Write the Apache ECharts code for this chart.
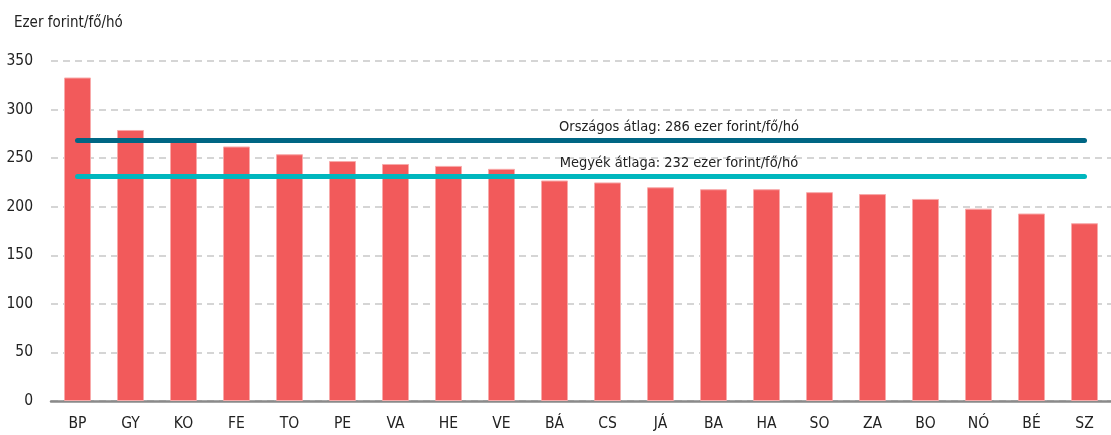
<!DOCTYPE html>
<html>
<head>
<meta charset="utf-8">
<script src="https://cdn.jsdelivr.net/npm/echarts@6/dist/echarts.min.js"></script>
<style>
html,body{margin:0;padding:0;background:#fff;}
#chart{width:1111px;height:435px;}
</style>
</head>
<body>
<div id="chart"></div>
<script>
const categories = ['BP','GY','KO','FE','TO','PE','VA','HE','VE','BÁ','CS','JÁ','BA','HA','SO','ZA','BO','NÓ','BÉ','SZ'];
const values = [333, 279, 267, 262, 254, 247, 244, 242, 239, 227, 225, 220, 218, 218, 215, 213, 208, 198, 193, 183];
const nationalAvgLevel = 268;
const countyAvgLevel = 231;
const nationalAvgText = 'Országos átlag: 286 ezer forint/fő/hó';
const countyAvgText = 'Megyék átlaga: 232 ezer forint/fő/hó';
const yTitle = 'Ezer forint/fő/hó';

const FONT = "'Liberation Sans Narrow', 'DejaVu Sans Condensed', sans-serif";
const chart = echarts.init(document.getElementById('chart'), null, {renderer: 'canvas'});

function avgLine(level, text, color) {
  return [
    {coord: [categories[0], level], lineStyle: {color: color},
     label: {formatter: text}},
    {coord: [categories[categories.length - 1], level]}
  ];
}

chart.setOption({
  animation: false,
  textStyle: {fontFamily: FONT},
  title: {
    text: yTitle, left: 9, top: 11,
    textStyle: {fontFamily: FONT, fontSize: 15, fontWeight: 'normal', color: '#222'}
  },
  grid: {left: 51, right: -2, top: 61, bottom: 34},
  xAxis: {
    type: 'category', data: categories,
    axisLine: {lineStyle: {color: '#8a8a8a', width: 2.5}},
    axisTick: {show: false},
    axisLabel: {fontFamily: FONT, fontSize: 15.5, color: '#222', margin: 15}
  },
  yAxis: {
    type: 'value', min: 0, max: 350, interval: 50,
    axisLine: {show: false}, axisTick: {show: false},
    axisLabel: {fontFamily: FONT, fontSize: 15.5, color: '#222', margin: 18},
    splitLine: {lineStyle: {color: '#c8c8c8', type: [7, 5], width: 1.5}}
  },
  series: [{
    type: 'bar', data: values, barWidth: 27,
    itemStyle: {color: '#f25a5b', borderColor: '#f8aaaa', borderWidth: 1},
    markLine: {
      silent: true, symbol: 'none', z: 10,
      lineStyle: {width: 5, type: 'solid', cap: 'round'},
      label: {
        position: 'middle', distance: 6, offset: [98, 0],
        fontFamily: FONT, fontSize: 14.5, color: '#222'
      },
      data: [
        avgLine(nationalAvgLevel, nationalAvgText, '#006684'),
        avgLine(countyAvgLevel, countyAvgText, '#00b7be')
      ]
    }
  }]
});
</script>
</body>
</html>
